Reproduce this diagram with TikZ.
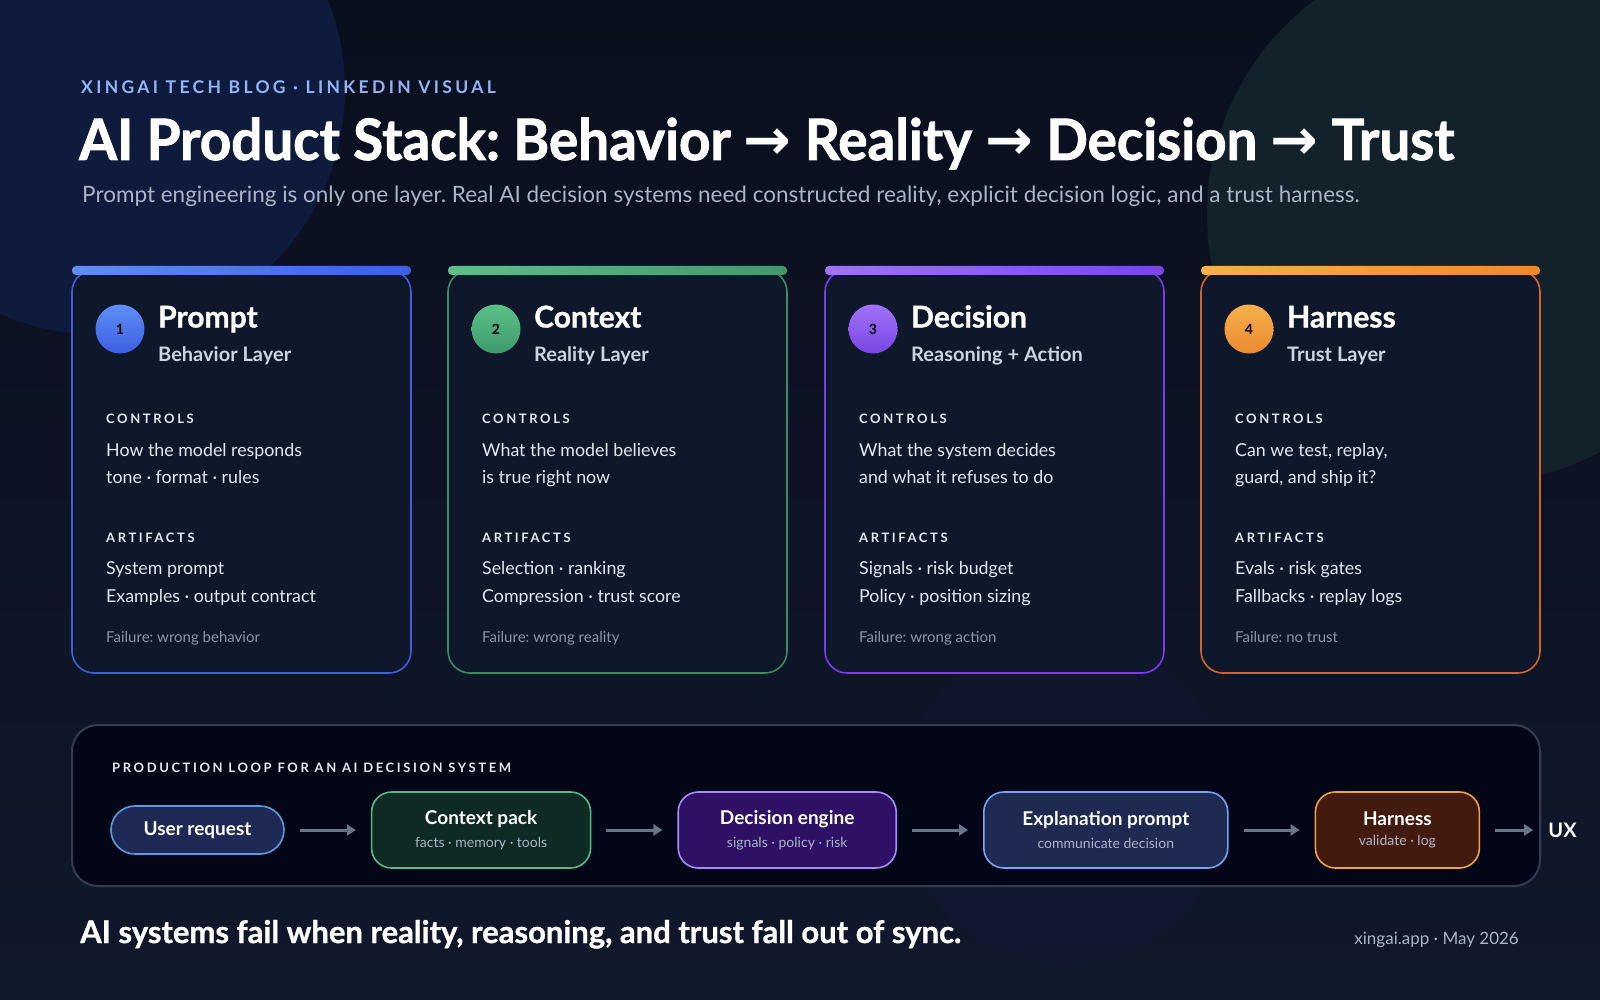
\documentclass[tikz,border=0pt]{standalone}
\usepackage{fontspec}
\setmainfont{Lato}
\newfontfamily\arrowfont{DejaVu Sans}
\usetikzlibrary{positioning,arrows.meta,calc}
\frenchspacing

\definecolor{bgtop}{HTML}{0A0F1E}
\definecolor{bgbot}{HTML}{10182B}
\definecolor{blobA}{HTML}{0F1B3C}
\definecolor{blobB}{HTML}{13212A}
\definecolor{blobC}{HTML}{15183A}
\definecolor{cardbg}{HTML}{0F172A}
\definecolor{panelbg}{HTML}{030617}
\definecolor{panelln}{HTML}{333D52}
\definecolor{headtxt}{HTML}{93B4F8}
\definecolor{subtxt}{HTML}{A9B4C6}
\definecolor{layertxt}{HTML}{CBD5E1}
\definecolor{bodytxt}{HTML}{E2E8F0}
\definecolor{failtxt}{HTML}{8B95A8}
\definecolor{arrgray}{HTML}{6B7588}
\definecolor{blueB}{HTML}{3F5FE0}
\definecolor{blueL}{HTML}{5F8EF5}
\definecolor{blueD}{HTML}{3C5FE2}
\definecolor{greenB}{HTML}{3E8A62}
\definecolor{greenL}{HTML}{5CC08A}
\definecolor{greenD}{HTML}{3D9A6A}
\definecolor{purpB}{HTML}{7C3AED}
\definecolor{purpL}{HTML}{A073F8}
\definecolor{purpD}{HTML}{7A45E6}
\definecolor{orngB}{HTML}{D2642E}
\definecolor{orngL}{HTML}{F6B04A}
\definecolor{orngD}{HTML}{EA8A30}
\definecolor{userF}{HTML}{1E2A55}
\definecolor{userB}{HTML}{5D9BE0}
\definecolor{ctxF}{HTML}{0F2A25}
\definecolor{ctxB}{HTML}{57B889}
\definecolor{decF}{HTML}{2E1065}
\definecolor{decB}{HTML}{A78BFA}
\definecolor{expF}{HTML}{1E2A52}
\definecolor{expB}{HTML}{7AA2F7}
\definecolor{harF}{HTML}{431A0F}
\definecolor{harB}{HTML}{F0A24A}

\begin{document}
\begin{tikzpicture}[
  x=1pt,y=-1pt,
  card/.style={rounded corners=22pt,fill=cardbg,line width=1.6pt},
  bar/.style={rounded corners=4pt},
  badge/.style={circle,minimum size=49pt,inner sep=0pt,text=black,font=\fontsize{14}{16}\selectfont\bfseries},
  ttl/.style={anchor=base west,inner sep=0pt,text=white,font=\fontsize{30}{30}\selectfont\bfseries\addfontfeature{FakeBold=1}},
  layer/.style={anchor=base west,inner sep=0pt,text=layertxt,font=\fontsize{20}{21}\selectfont\bfseries},
  kicker/.style={anchor=base west,inner sep=0pt,text=bodytxt,font=\fontsize{13}{14}\selectfont\bfseries\addfontfeature{LetterSpace=20}},
  body/.style={anchor=base west,inner sep=0pt,text=bodytxt,font=\fontsize{17.8}{20}\selectfont},
  fail/.style={anchor=base west,inner sep=0pt,text=failtxt,font=\fontsize{15}{16}\selectfont},
  box/.style={rounded corners=20pt,minimum height=76pt,line width=1.6pt,align=center,text=white,inner sep=0pt},
  flow/.style={-{Triangle[length=9pt,width=11pt]},line width=3pt,draw=arrgray,shorten <=15pt,shorten >=15pt},
  node distance=86pt
]
\useasboundingbox (0,0) rectangle (1600,1000);
% backdrop
\shade[top color=bgtop,bottom color=bgbot] (0,0) rectangle (1600,1000);
\fill[blobA] (100,90) circle[radius=245pt];
\fill[blobB] (1475,215) circle[radius=268pt];
\fill[blobC,opacity=.25] (1065,800) circle[radius=165pt];

% header
\node[anchor=base west,inner sep=0pt,text=headtxt,font=\fontsize{17.5}{18}\selectfont\bfseries\addfontfeature{LetterSpace=19}] (tag) at (81,94) {XINGAI TECH BLOG · LINKEDIN VISUAL};
\node[anchor=base west,inner sep=0pt,text=white,font=\fontsize{57}{60}\selectfont\bfseries\addfontfeature{FakeStretch=0.96,FakeBold=1.5}] (title) at (79,160)
  {AI Product Stack: Behavior {\arrowfont\bfseries →} Reality {\arrowfont\bfseries →} Decision {\arrowfont\bfseries →} Trust};
\node[anchor=base west,inner sep=0pt,text=subtxt,font=\fontsize{22.5}{24}\selectfont] (lead) at (82,203)
  {Prompt engineering is only one layer. Real AI decision systems need constructed reality, explicit decision logic, and a trust harness.};

% card 1
\draw[card,draw=blueB] (72,270) rectangle (411,673);
\shade[bar,left color=blueL,right color=blueD] (72,266) rectangle (411,275);
\node[badge,top color=blueL,bottom color=blueD] (n1) at (120,329) {1};
\node[ttl] (t1) at (158,327.5) {Prompt};
\node[layer] (s1) at (158,361) {Behavior Layer};
\node[kicker] (k1) at (106,423.5) {CONTROLS};
\node[body] (b1) at (106,456) {How the model responds};
\node[body] (c1) at (106,483) {tone · format · rules};
\node[kicker] (a1) at (106,542) {ARTIFACTS};
\node[body] (r1) at (106,574.5) {System prompt};
\node[body] (e1) at (106,602) {Examples · output contract};
\node[fail] (f1) at (106,642) {Failure: wrong behavior};

% card 2
\draw[card,draw=greenB] (448,270) rectangle (787,673);
\shade[bar,left color=greenL,right color=greenD] (448,266) rectangle (787,275);
\node[badge,top color=greenL,bottom color=greenD] (n2) at (496,329) {2};
\node[ttl] (t2) at (534,327.5) {Context};
\node[layer] (s2) at (534,361) {Reality Layer};
\node[kicker] (k2) at (482,423.5) {CONTROLS};
\node[body] (b2) at (482,456) {What the model believes};
\node[body] (c2) at (482,483) {is true right now};
\node[kicker] (a2) at (482,542) {ARTIFACTS};
\node[body] (r2) at (482,574.5) {Selection · ranking};
\node[body] (e2) at (482,602) {Compression · trust score};
\node[fail] (f2) at (482,642) {Failure: wrong reality};

% card 3
\draw[card,draw=purpB] (825,270) rectangle (1164,673);
\shade[bar,left color=purpL,right color=purpD] (825,266) rectangle (1164,275);
\node[badge,top color=purpL,bottom color=purpD] (n3) at (873,329) {3};
\node[ttl] (t3) at (911,327.5) {Decision};
\node[layer] (s3) at (911,361) {Reasoning + Action};
\node[kicker] (k3) at (859,423.5) {CONTROLS};
\node[body] (b3) at (859,456) {What the system decides};
\node[body] (c3) at (859,483) {and what it refuses to do};
\node[kicker] (a3) at (859,542) {ARTIFACTS};
\node[body] (r3) at (859,574.5) {Signals · risk budget};
\node[body] (e3) at (859,602) {Policy · position sizing};
\node[fail] (f3) at (859,642) {Failure: wrong action};

% card 4
\draw[card,draw=orngB] (1201,270) rectangle (1540,673);
\shade[bar,left color=orngL,right color=orngD] (1201,266) rectangle (1540,275);
\node[badge,top color=orngL,bottom color=orngD] (n4) at (1249,329) {4};
\node[ttl] (t4) at (1287,327.5) {Harness};
\node[layer] (s4) at (1287,361) {Trust Layer};
\node[kicker] (k4) at (1235,423.5) {CONTROLS};
\node[body] (b4) at (1235,456) {Can we test, replay,};
\node[body] (c4) at (1235,483) {guard, and ship it?};
\node[kicker] (a4) at (1235,542) {ARTIFACTS};
\node[body] (r4) at (1235,574.5) {Evals · risk gates};
\node[body] (e4) at (1235,602) {Fallbacks · replay logs};
\node[fail] (f4) at (1235,642) {Failure: no trust};

% production loop
\draw[rounded corners=26pt,fill=panelbg,draw=panelln,line width=2pt] (72,725) rectangle (1540,886);
\node[kicker,font=\fontsize{13}{14}\selectfont\bfseries\addfontfeature{LetterSpace=20}] (loop) at (112,772.5) {PRODUCTION LOOP FOR AN AI DECISION SYSTEM};

\node[box,rounded corners=24pt,minimum width=173pt,minimum height=48pt,fill=userF,draw=userB,font=\fontsize{19}{20}\selectfont\bfseries] (user) at (197.5,830) {User request};
\node[box,minimum width=219pt,fill=ctxF,draw=ctxB,right=of user] (ctx)
  {{\fontsize{19}{20}\selectfont\bfseries Context pack}\\[8pt]{\fontsize{14}{15}\selectfont\color{subtxt}facts · memory · tools}};
\node[box,minimum width=218pt,fill=decF,draw=decB,right=of ctx] (dec)
  {{\fontsize{19}{20}\selectfont\bfseries Decision engine}\\[8pt]{\fontsize{14}{15}\selectfont\color{subtxt}signals · policy · risk}};
\node[box,minimum width=244pt,fill=expF,draw=expB,right=of dec] (exp)
  {{\fontsize{19}{20}\selectfont\bfseries Explanation prompt}\\[8pt]{\fontsize{14}{15}\selectfont\color{subtxt}communicate decision}};
\node[box,minimum width=164pt,fill=harF,draw=harB,right=of exp] (har)
  {{\fontsize{19}{20}\selectfont\bfseries Harness}\\[8pt]{\fontsize{14}{15}\selectfont\color{subtxt}validate · log}};
\node[inner sep=0pt,text=white,font=\fontsize{20}{21}\selectfont\bfseries,right=68pt of har] (ux) {UX};

\draw[flow] (user) -- (ctx);
\draw[flow] (ctx) -- (dec);
\draw[flow] (dec) -- (exp);
\draw[flow] (exp) -- (har);
\draw[flow] (har) -- (ux);

% footer
\node[anchor=base west,inner sep=0pt,text=white,font=\fontsize{31}{32}\selectfont\bfseries\addfontfeature{FakeBold=1}] (moral) at (80,943)
  {AI systems fail when reality, reasoning, and trust fall out of sync.};
\node[anchor=base east,inner sep=0pt,text=subtxt,font=\fontsize{17}{18}\selectfont] (stamp) at (1519,944) {xingai.app · May 2026};
\end{tikzpicture}
\end{document}
